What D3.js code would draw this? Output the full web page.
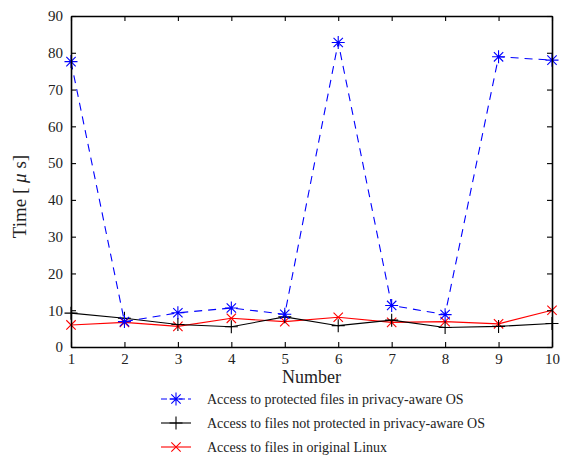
<!DOCTYPE html>
<html>
<head>
<meta charset="utf-8">
<script src="https://cdn.jsdelivr.net/npm/d3@7"></script>
<style>
  body { margin: 0; background: #fff; }
  text { font-family: "Liberation Serif", "DejaVu Serif", serif; fill: #222; }
</style>
</head>
<body>
<div id="chart"></div>
<script>
// data
const runs = [1, 2, 3, 4, 5, 6, 7, 8, 9, 10];
const protectedVals = [77.6, 6.9, 9.3, 10.6, 8.9, 82.8, 11.3, 8.8, 78.9, 78.0];
const notProtectedVals = [9.2, 7.8, 6.1, 5.5, 8.2, 5.8, 7.3, 5.3, 5.6, 6.4];
const linuxVals = [6.0, 6.7, 5.6, 7.8, 6.9, 8.1, 6.7, 6.9, 6.3, 10.0];
const yTicks = [0, 10, 20, 30, 40, 50, 60, 70, 80, 90];

const series = [
    { name: "Access to protected files in privacy-aware OS", values: protectedVals, color: "#0000ff", marker: "star", dash: "8,6" },
    { name: "Access to files not protected in privacy-aware OS", values: notProtectedVals, color: "#000000", marker: "plus", dash: null },
    { name: "Access to files in original Linux", values: linuxVals, color: "#ff0000", marker: "cross", dash: null }
];

const W = 563, H = 455;
const margin = { top: 16, right: 11, bottom: 108, left: 71 };
const width = W - margin.left - margin.right;
const height = H - margin.top - margin.bottom;

const svgRoot = d3.select("#chart").append("svg")
    .attr("width", W)
    .attr("height", H);

const svg = svgRoot.append("g")
    .attr("transform", `translate(${margin.left},${margin.top})`);

const x = d3.scaleLinear().domain([1, 10]).range([0, width]);
const y = d3.scaleLinear().domain([0, 90]).range([height, 0]);

// marker path generator
function markerPath(type, cx, cy, r) {
    const d = r * 0.72;
    if (type === "plus") return `M${cx - r},${cy}H${cx + r}M${cx},${cy - r}V${cy + r}`;
    if (type === "cross") return `M${cx - d},${cy - d}L${cx + d},${cy + d}M${cx - d},${cy + d}L${cx + d},${cy - d}`;
    return `M${cx - r},${cy}H${cx + r}M${cx},${cy - r}V${cy + r}` +
        `M${cx - d},${cy - d}L${cx + d},${cy + d}M${cx - d},${cy + d}L${cx + d},${cy - d}`;
}

const line = d3.line()
    .x((d, i) => x(runs[i]))
    .y(d => y(d));

// lines then markers (black drawn over blue, red over black as in the figure)
series.slice().reverse().forEach(s => {
    svg.append("path")
        .datum(s.values)
        .attr("fill", "none")
        .attr("stroke", s.color)
        .attr("stroke-width", 1.1)
        .attr("stroke-dasharray", s.dash)
        .attr("d", line);
    svg.append("g").selectAll("path")
        .data(s.values)
        .enter().append("path")
        .attr("d", (d, i) => markerPath(s.marker, x(runs[i]), y(d), 6.5))
        .attr("fill", "none")
        .attr("stroke", s.color)
        .attr("stroke-width", 1.1);
});

// axes: box with inward ticks
const tickLen = 5;
const xAxis = svg.append("g")
    .attr("transform", `translate(0,${height})`)
    .call(d3.axisBottom(x).tickValues(runs).tickFormat(d3.format("d")).tickSizeInner(-tickLen).tickSizeOuter(0).tickPadding(6));
const xAxisTop = svg.append("g")
    .call(d3.axisTop(x).tickValues(runs).tickFormat("").tickSizeInner(-tickLen).tickSizeOuter(0));
const yAxis = svg.append("g")
    .call(d3.axisLeft(y).tickValues(yTicks).tickSizeInner(-tickLen).tickSizeOuter(0).tickPadding(8));
const yAxisRight = svg.append("g")
    .attr("transform", `translate(${width},0)`)
    .call(d3.axisRight(y).tickValues(yTicks).tickFormat("").tickSizeInner(-tickLen).tickSizeOuter(0));

[xAxis, xAxisTop, yAxis, yAxisRight].forEach(a => {
    a.attr("font-family", "'Liberation Serif', serif").attr("font-size", 15);
    a.select(".domain").attr("stroke", "#000").attr("stroke-width", 1.6);
    a.selectAll(".tick line").attr("stroke", "#000").attr("stroke-width", 1.1);
    a.selectAll("text").attr("fill", "#222");
});

// axis labels
svg.append("text")
    .attr("x", width / 2)
    .attr("y", height + 36)
    .attr("text-anchor", "middle")
    .style("font-size", "18px")
    .text("Number");

const yLabel = svg.append("text")
    .attr("transform", `translate(${-margin.left + 26},${height / 2 + 15}) rotate(-90)`)
    .attr("text-anchor", "middle")
    .style("font-size", "19px");
yLabel.append("tspan").text("Time [ ");
yLabel.append("tspan").style("font-style", "italic").text("\u03bc");
yLabel.append("tspan").text(" s]");

// legend
const legend = svg.append("g")
    .attr("transform", `translate(${90},${height + 52})`);
series.forEach((s, i) => {
    const row = legend.append("g").attr("transform", `translate(0,${i * 24})`);
    row.append("line")
        .attr("x1", 0).attr("x2", 30)
        .attr("y1", 0).attr("y2", 0)
        .attr("stroke", s.color)
        .attr("stroke-width", 1.1)
        .attr("stroke-dasharray", s.dash ? "6,3" : null);
    row.append("path")
        .attr("d", markerPath(s.marker, 15, 0, 6.5))
        .attr("fill", "none")
        .attr("stroke", s.color)
        .attr("stroke-width", 1.1);
    row.append("text")
        .attr("x", 46)
        .attr("y", 5)
        .style("font-size", "14px")
        .text(s.name);
});
</script>
</body>
</html>
